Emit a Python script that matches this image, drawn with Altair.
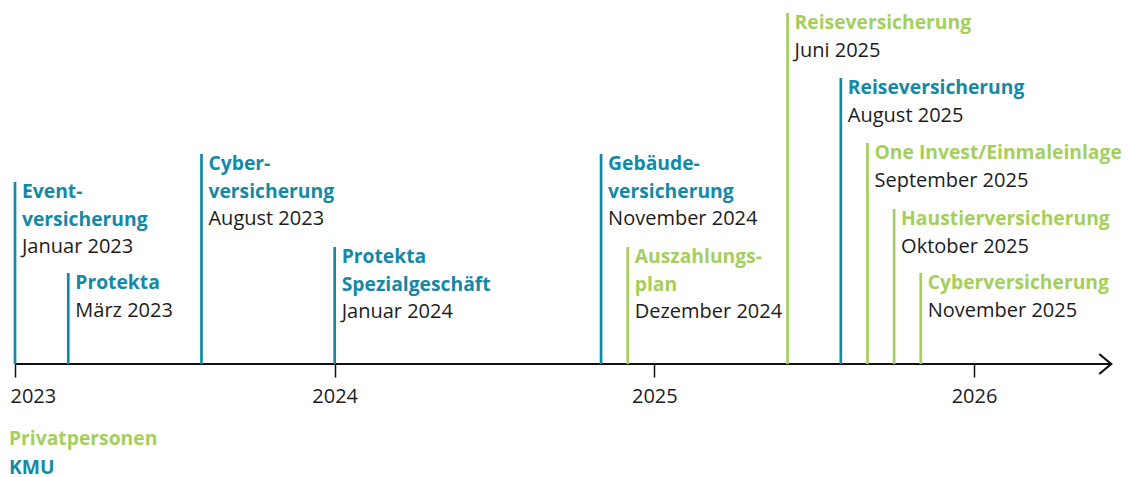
import altair as alt
import pandas as pd

# ---- data ----
dates = ["2023-01", "2023-03", "2023-08", "2024-01", "2024-11", "2024-12",
         "2025-06", "2025-08", "2025-09", "2025-10", "2025-11"]
titles = [["Event-", "versicherung"], ["Protekta"], ["Cyber-", "versicherung"],
          ["Protekta", "Spezialgeschäft"], ["Gebäude-", "versicherung"],
          ["Auszahlungs-", "plan"], ["Reiseversicherung"], ["Reiseversicherung"],
          ["One Invest/Einmaleinlage"], ["Haustierversicherung"], ["Cyberversicherung"]]
date_labels = ["Januar 2023", "März 2023", "August 2023", "Januar 2024", "November 2024",
               "Dezember 2024", "Juni 2025", "August 2025", "September 2025",
               "Oktober 2025", "November 2025"]
segments = ["KMU", "KMU", "KMU", "KMU", "KMU", "Privatpersonen", "Privatpersonen",
            "KMU", "Privatpersonen", "Privatpersonen", "Privatpersonen"]
levels = [182, 91, 210, 117, 210, 117, 351, 286, 221, 155, 91]  # stagger height of each marker
year_ticks = [2023, 2024, 2025, 2026]
legend_items = ["Privatpersonen", "KMU"]

GREEN = "#a5cf5c"
BLUE = "#1389a7"
DARK = "#1c1c1c"
FONT = "Open Sans"
LINE = 27.5
FIRST = 16

def month_index(d):
    y, m = d.split("-")
    return (int(y) - 2023) * 12 + int(m) - 1

months = [month_index(d) for d in dates]

events = pd.DataFrame({"m": months, "level": levels, "seg": segments,
                       "date": date_labels, "n": [len(t) for t in titles]})
events["date_y"] = events["level"] - FIRST - LINE * events["n"]

rows = []
for i, lines in enumerate(titles):
    for j, line in enumerate(lines):
        rows.append({"m": months[i], "seg": segments[i], "txt": line,
                     "y": levels[i] - FIRST - LINE * j})
title_df = pd.DataFrame(rows)

tick_vals = [(y - 2023) * 12 for y in year_ticks]
axis_end = 41.15

x_scale = alt.Scale(domain=[-0.2628, 41.78], nice=False, zero=False)
y_scale = alt.Scale(domain=[0, 356], nice=False, zero=False)
color_scale = alt.Scale(domain=legend_items, range=[GREEN, BLUE])

x_axis = alt.Axis(values=tick_vals, labelExpr="format(2023 + datum.value / 12, 'd')",
                  domain=False, grid=False, tickColor="#111111", tickWidth=1.5,
                  tickSize=13, labelFont=FONT, labelFontSize=20, labelColor=DARK,
                  labelPadding=9, labelFlush=10, labelFlushOffset=5, title=None)

X = alt.X("m:Q", scale=x_scale, axis=x_axis)

rules = alt.Chart(events).mark_rule(strokeWidth=2.7).encode(
    x=X,
    y=alt.Y("level:Q", scale=y_scale, axis=None),
    y2=alt.datum(0),
    color=alt.Color("seg:N", scale=color_scale, legend=None),
)

titles_layer = alt.Chart(title_df).mark_text(
    align="left", baseline="alphabetic", dx=7, font=FONT, fontSize=19.3, fontWeight="bold"
).encode(
    x=X,
    y=alt.Y("y:Q", scale=y_scale, axis=None),
    text="txt:N",
    color=alt.Color("seg:N", scale=color_scale, legend=None),
)

dates_layer = alt.Chart(events).mark_text(
    align="left", baseline="alphabetic", dx=7, font=FONT, fontSize=20, color=DARK
).encode(
    x=X,
    y=alt.Y("date_y:Q", scale=y_scale, axis=None),
    text="date:N",
)

axis_df = pd.DataFrame({"m": [0], "m2": [axis_end], "y": [0]})
axis_line = alt.Chart(axis_df).mark_rule(strokeWidth=2.2, color="#111111").encode(
    x=X, x2="m2:Q", y=alt.Y("y:Q", scale=y_scale, axis=None)
)

arrow_df = pd.DataFrame({"m": [axis_end], "y": [0]})
arrow = alt.Chart(arrow_df).mark_point(
    shape="M-1.2,-1L0,0L-1.2,1", filled=False, size=400, strokeWidth=2.2,
    color="#111111", opacity=1
).encode(x=X, y=alt.Y("y:Q", scale=y_scale, axis=None))

legend_df = pd.DataFrame({"seg": legend_items, "y": [-81, -110]})
legend_layer = alt.Chart(legend_df).mark_text(
    align="left", baseline="alphabetic", font=FONT, fontSize=19.3, fontWeight="bold"
).encode(
    x=alt.value(1),
    y=alt.Y("y:Q", scale=y_scale, axis=None),
    text="seg:N",
    color=alt.Color("seg:N", scale=color_scale, legend=None),
)

chart = alt.layer(axis_line, arrow, rules, titles_layer, dates_layer, legend_layer).properties(
    width=1120, height=356,
    autosize=alt.AutoSizeParams(type="none"),
    padding={"left": 0, "top": 0, "right": 0, "bottom": 113},
).configure_view(stroke=None)

chart.save("out.html", embed_options={"renderer": "svg", "actions": False})
